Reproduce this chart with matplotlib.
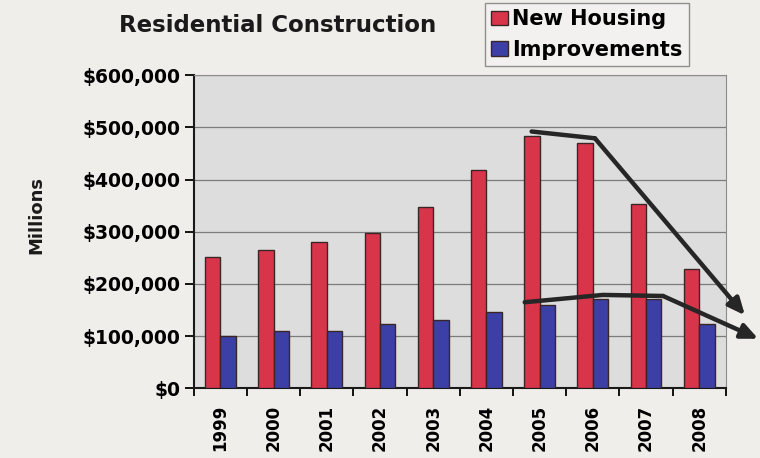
import numpy as np
import matplotlib
matplotlib.use("Agg")
import matplotlib.pyplot as plt
from matplotlib.ticker import FuncFormatter

years = ["1999", "2000", "2001", "2002", "2003", "2004", "2005", "2006", "2007", "2008"]
new_housing = [252000, 265000, 280000, 298000, 347000, 418000, 483000, 470000, 353000, 229000]
improvements = [100000, 110000, 109000, 123000, 131000, 147000, 160000, 172000, 171000, 124000]

# hand-drawn trend arrows (x in category units, y in dollars)
trend_new_x = [5.85, 7.04, 9.86]
trend_new_y = [492000, 479000, 140000]
trend_imp_x = [5.72, 7.19, 8.32, 10.11]
trend_imp_y = [165000, 179000, 177000, 95000]

RED = "#d8344a"
BLUE = "#3b3fa6"
EDGE = "#3a2626"
ARROW = "#262626"

plt.rcParams["font.family"] = ["DejaVu Sans"]
plt.rcParams["font.weight"] = "bold"

fig = plt.figure(figsize=(7.6, 4.58), dpi=100, facecolor="#efeeeb")
ax = fig.add_axes([0.255, 0.152, 0.700, 0.684])
ax.set_facecolor("#dddddd")

x = np.arange(len(years))
w = 0.29
ax.bar(x - w / 2, new_housing, w, color=RED, edgecolor=EDGE, linewidth=1.0,
       label="New Housing", zorder=3)
ax.bar(x + w / 2, improvements, w, color=BLUE, edgecolor=EDGE, linewidth=1.0,
       label="Improvements", zorder=3)

ax.set_xlim(-0.5, len(years) - 0.5)
ax.set_ylim(0, 600000)
ax.set_yticks(np.arange(0, 600001, 100000))
ax.yaxis.set_major_formatter(FuncFormatter(lambda v, p: "${:,.0f}".format(v)))
ax.yaxis.grid(True, color="#7c7c7c", linewidth=0.9, zorder=1)

# category boundaries get the tick marks, year labels sit in between
ax.set_xticks(np.arange(-0.5, len(years), 1.0))
ax.set_xticklabels([])
ax.set_xticks(x, minor=True)
ax.set_xticklabels(years, minor=True, rotation=90, fontsize=12, fontweight="bold")
ax.tick_params(axis="x", which="minor", length=0, pad=12)
ax.tick_params(axis="x", which="major", direction="out", length=6, width=1.3)
ax.tick_params(axis="y", direction="out", length=6.5, width=1.3, labelsize=13.5, pad=3)

for side in ["top", "right"]:
    ax.spines[side].set_color("#8c8c8c")
for side in ["left", "bottom"]:
    ax.spines[side].set_linewidth(1.5)
    ax.spines[side].set_color("#1a1a1a")

fig.text(36 / 760, 1 - 215 / 458, "Millions", rotation=90, ha="center", va="center",
         fontsize=13, fontweight="bold", color="#1a1a1a")

fig.text(0.365, 0.945, "Residential Construction", ha="center", va="center",
         fontsize=16.5, fontweight="bold", color="#1a1a1a")

leg = fig.legend(loc="upper left", bbox_to_anchor=(485 / 760, 1 - 3 / 458), fontsize=15,
                 frameon=True, fancybox=False, handlelength=0.8, handleheight=0.7,
                 handletextpad=0.2, borderpad=0.3, borderaxespad=0, labelspacing=0.5,
                 edgecolor="#777777")
leg.get_frame().set_facecolor("#f3f3f1")
leg.get_frame().set_linewidth(1.0)

# trend arrows
for tx, ty in [(trend_new_x, trend_new_y), (trend_imp_x, trend_imp_y)]:
    ax.plot(tx[:-1], ty[:-1], color=ARROW, linewidth=3.2, solid_capstyle="round",
            zorder=5, clip_on=False)
    ax.annotate("", xy=(tx[-1], ty[-1]), xytext=(tx[-2], ty[-2]),
                arrowprops=dict(arrowstyle="-|>,head_length=1.0,head_width=0.45",
                                color=ARROW, linewidth=3.2, shrinkA=0, shrinkB=0),
                zorder=5, annotation_clip=False)

fig.savefig("out.png", dpi=100, facecolor=fig.get_facecolor())
